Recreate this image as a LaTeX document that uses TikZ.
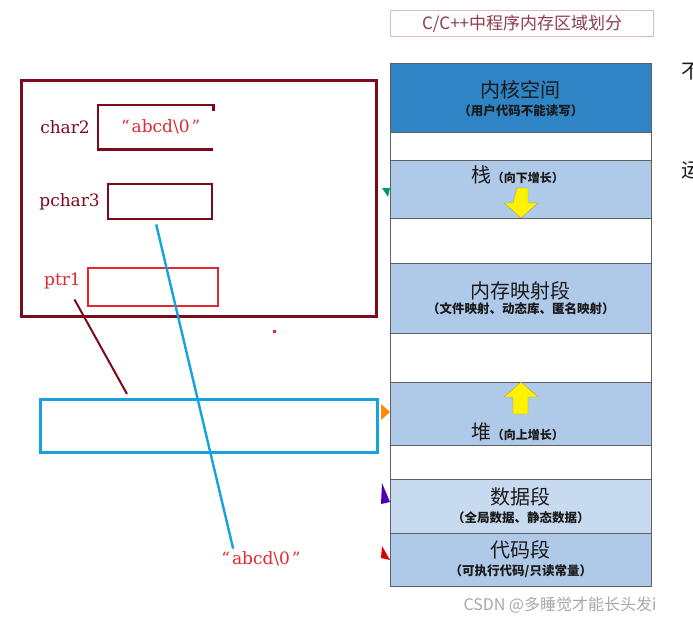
\documentclass[tikz,border=0pt]{standalone}
\usepackage{fontspec}
\usepackage{xcolor}
\usepackage{tikz}
\usetikzlibrary{calc,positioning}
\newfontfamily\cjk{Noto Sans CJK SC}
\newfontfamily\lblfont{DejaVu Serif}
\definecolor{maroon}{HTML}{7B0A1C}
\definecolor{redcol}{HTML}{E02A2E}
\definecolor{bluecol}{HTML}{17A2DC}
\definecolor{kerncol}{HTML}{2E84C5}
\definecolor{segcol}{HTML}{AFC9E8}
\definecolor{datacol}{HTML}{C8DAEF}
\definecolor{seggrey}{HTML}{5F5F5F}
\definecolor{inkcol}{HTML}{1A1A1A}
\definecolor{titlecol}{HTML}{8E3B4F}
\definecolor{titleline}{HTML}{E2B8C2}
\definecolor{wmgrey}{HTML}{A8A8A8}

\begin{document}
\begin{tikzpicture}[x=1pt, y=-1pt,
      seg/.style={draw=seggrey, line width=0.8pt, minimum width=261pt,
                  inner sep=0pt, anchor=north west},
      bigtxt/.style={font=\cjk\fontsize{20}{22}\selectfont, text=inkcol, inner sep=0pt},
      subtxt/.style={font=\cjk\bfseries\fontsize{12.5}{14}\selectfont, text=inkcol, inner sep=0pt},
      varlbl/.style={font=\lblfont\fontsize{17}{19}\selectfont, inner sep=0pt},
      cellbox/.style={anchor=north west, inner sep=0pt},
      yarr/.style={fill=yellow, draw=yellow!60!black, line width=0.4pt},
      link/.style={line width=2.4pt}]

    \useasboundingbox[fill=white] (0,0) rectangle (693,623);

    % memory layout column
    \node[draw=titleline, line width=1.2pt, minimum width=263pt, minimum height=26pt,
          anchor=north west, inner sep=0pt, text=titlecol,
          font=\cjk\fontsize{17}{19}\selectfont] (title) at (390,10)
      {C/C++中程序内存区域划分};

    \foreach \t/\b/\c/\n [evaluate=\t as \h using \b-\t] in {
        63/132/kerncol/kern, 132/160/white/gapa, 160/218/segcol/stack,
        218/263/white/gapb, 263/333/segcol/mmap, 333/382/white/gapc,
        382/445/segcol/heap, 445/479/white/gapd, 479/533/datacol/data,
        533/586/segcol/code}
    {
      \node[seg, fill=\c, minimum height=\h pt] (\n) at (390,\t) {};
    }

    \node[bigtxt] (kernt) at ($(kern.north)+(0,27)$) {内核空间};
    \node[subtxt] (kerns) at ($(kern.north)+(0,48)$) {（用户代码不能读写）};
    \node[bigtxt] (stackt) at ($(stack.north)+(-3,15)$)
      {栈{\bfseries\fontsize{12}{14}\selectfont（向下增长）}};
    \node[bigtxt] (mmapt) at ($(mmap.north)+(0,28)$) {内存映射段};
    \node[subtxt] (mmaps) at ($(mmap.north)+(0,46)$) {（文件映射、动态库、匿名映射）};
    \node[bigtxt] (heapt) at ($(heap.north)+(-3,50)$)
      {堆{\bfseries\fontsize{12}{14}\selectfont（向上增长）}};
    \node[bigtxt] (datat) at ($(data.north)+(0,18)$) {数据段};
    \node[subtxt] (datas) at ($(data.north)+(0,39)$) {（全局数据、静态数据）};
    \node[bigtxt] (codet) at ($(code.north)+(0,17)$) {代码段};
    \node[subtxt] (codes) at ($(code.north)+(0,38)$) {（可执行代码/只读常量）};

    % growth arrows
    \draw[yarr] (517,188) -- (528,188) -- (528,203) -- (538,203) -- (521,218)
      -- (504,203) -- (513,203) -- cycle;
    \draw[yarr] (521,382) -- (538,397) -- (528,397) -- (528,414) -- (513,414)
      -- (513,397) -- (504,397) -- cycle;

    % arrow tips cut by the column
    \fill[teal!80!green] (382,188) -- (390,188) -- (388,197) -- cycle;
    \fill[orange!90!yellow] (381,404) -- (390,412) -- (381,420) -- cycle;
    \fill[violet!60!blue] (382,483) -- (390,502) -- (381,504) -- cycle;
    \fill[red!85!black] (382,546) -- (390,560) -- (381,558) -- cycle;

    % stack frame
    \node[draw=maroon, line width=2.6pt, minimum width=355pt, minimum height=236pt,
          cellbox] (frame) at (20,79) {};

    \node[cellbox, minimum width=115pt, minimum height=44pt] (c2box) at (98,105) {};
    \draw[maroon, line width=2.4pt] ([yshift=-6pt]c2box.north east) -- (c2box.north east)
      -- (c2box.north west) -- (c2box.south west) -- (c2box.south east);
    \node[varlbl, text=redcol] (c2str) at ([xshift=5pt]c2box.center)
      {“\hspace{2pt}abcd\textbackslash0\hspace{2pt}”};
    \node[varlbl, text=maroon, left=8pt of c2box] (c2lbl) {char2};

    \node[cellbox, draw=maroon, line width=2.4pt, minimum width=104pt,
          minimum height=35pt] (p3box) at (107,183) {};
    \node[varlbl, text=maroon, left=7pt of p3box] (p3lbl) {pchar3};

    \node[cellbox, draw=redcol, line width=2.4pt, minimum width=130pt,
          minimum height=38pt] (p1box) at (87,267) {};
    \node[varlbl, text=redcol, left=6pt of p1box, yshift=6pt] (p1lbl) {ptr1};

    \fill[redcol] (272.5,329.5) rectangle (275.5,332.5);

    % heap block
    \node[cellbox, draw=bluecol, line width=2.6pt, minimum width=337pt,
          minimum height=53pt] (heapblk) at (39,398) {};

    \node[varlbl, text=redcol] (lit) at (261,559)
      {“\hspace{2pt}abcd\textbackslash0\hspace{2pt}”};

    \draw[link, maroon, line width=2pt] ($(p1lbl.south)+(12,10)$) -- ($(heapblk.north west)+(88,-4)$);
    \draw[link, bluecol] ($(p3box.south)+(-4,4)$) -- ($(lit.north west)+(12,-3)$);

    % cut-off text on the right and watermark
    \node[bigtxt, anchor=west] (cuta) at (681,72) {不};
    \node[bigtxt, anchor=west] (cutb) at (681,170) {运};
    \node[font=\cjk\fontsize{16}{18}\selectfont, text=wmgrey, inner sep=0pt] (wm)
      at (560,605) {CSDN @多睡觉才能长头发i};
  \end{tikzpicture}
\end{document}
